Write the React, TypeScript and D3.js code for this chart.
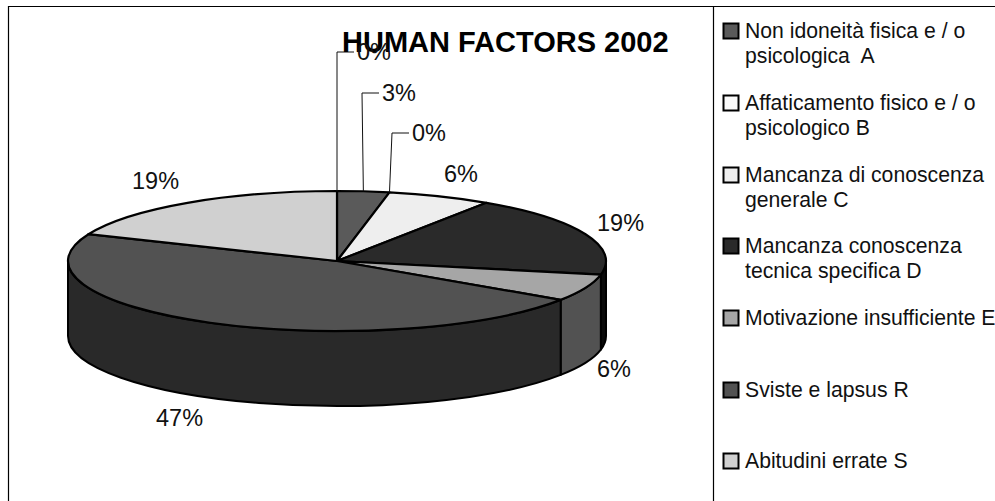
import React from "react";
import * as d3 from "d3";

// Incident counts per factor, clockwise from twelve o'clock.
const sliceCounts = [0, 1, 0, 2, 6, 2, 15, 6];
const sliceFills = ["#ffffff", "#5a5a5a", "#fbfbfb", "#eeeeee", "#2a2a2a", "#a6a6a6", "#525252", "#d0d0d0"];
const sideFills = ["#808080", "#2d2d2d", "#7e7e7e", "#777777", "#0a0a0a", "#525252", "#292929", "#686868"];

const chartTitle = "HUMAN FACTORS 2002";

const legendLines = [
  ["Non idoneità fisica e / o", "psicologica  A"],
  ["Affaticamento fisico e / o", "psicologico B"],
  ["Mancanza di conoscenza", "generale C"],
  ["Mancanza conoscenza", "tecnica specifica D"],
  ["Motivazione insufficiente E"],
  ["Sviste e lapsus R"],
  ["Abitudini errate S"],
];
const legendFills = ["#5a5a5a", "#fbfbfb", "#eeeeee", "#2a2a2a", "#a6a6a6", "#525252", "#d0d0d0"];
const legendSwatchTops = [23, 95, 167, 238, 310, 382, 453];

// Where each percentage sits: text start, baseline.
const labelAnchors: [number, number][] = [
  [357, 60], [382, 101], [412, 141], [444, 182], [597, 231], [597, 377], [156, 426], [132, 189],
];
// Elbow leaders for the three crowded labels at the top: elbow x, elbow y, end x.
const leaders: Record<number, [number, number, number]> = {
  0: [337, 52, 354],
  1: [362, 93, 379],
  2: [392, 133, 409],
};

const FONT = '"Liberation Sans", Arial, Helvetica, sans-serif';
const x = d3.scaleLinear().domain([-1, 1]).range([68, 606]);
const y = d3.scaleLinear().domain([-1, 1]).range([191, 331]);
const rx = (x(1) - x(-1)) / 2;
const ry = (y(1) - y(-1)) / 2;
const DEPTH = 75;

const pct = d3.format(".0%");
const total = d3.sum(sliceCounts);
const arcs = d3.pie<number>().sort(null).value((d) => d)(sliceCounts);

const rim = (a: number, drop = 0): [number, number] => [x(Math.sin(a)), y(-Math.cos(a)) + drop];

function topPath(a0: number, a1: number) {
  const [x0, y0] = rim(a0);
  const [x1, y1] = rim(a1);
  const large = a1 - a0 > Math.PI ? 1 : 0;
  return `M${x(0)},${y(0)}L${x0},${y0}A${rx},${ry} 0 ${large} 1 ${x1},${y1}Z`;
}

function sidePath(a0: number, a1: number) {
  const [x0, y0] = rim(a0);
  const [x1, y1] = rim(a1);
  const [x2, y2] = rim(a1, DEPTH);
  const [x3, y3] = rim(a0, DEPTH);
  return `M${x0},${y0}A${rx},${ry} 0 0 1 ${x1},${y1}L${x2},${y2}A${rx},${ry} 0 0 0 ${x3},${y3}Z`;
}

export default function App() {
  return (
    <svg
      width={995}
      height={501}
      style={{ position: "absolute", left: 0, top: 0, background: "#fff" }}
      fontFamily={FONT}
    >
      {/* frame around the plot and legend */}
      <path d="M8.5,501V6.5H995M713.5,6.5V501" fill="none" stroke="#000" strokeWidth={1.2} />

      {/* visible part of the pie's side wall */}
      {arcs.map((d, i) => {
        const a0 = Math.max(d.startAngle, Math.PI / 2);
        const a1 = Math.min(d.endAngle, (3 * Math.PI) / 2);
        return a1 > a0 ? (
          <path key={i} d={sidePath(a0, a1)} fill={sideFills[i]} stroke="#000" strokeWidth={2} strokeLinejoin="round" />
        ) : null;
      })}

      {/* top face */}
      {arcs.map((d, i) =>
        d.endAngle > d.startAngle ? (
          <path key={i} d={topPath(d.startAngle, d.endAngle)} fill={sliceFills[i]} stroke="#000" strokeWidth={2.2} strokeLinejoin="round" />
        ) : null
      )}

      {/* leaders */}
      {arcs.map((d, i) => {
        const l = leaders[i];
        if (!l) return null;
        const [px, py] = rim(d.startAngle === d.endAngle ? d.startAngle : (d.startAngle + d.endAngle) / 2);
        return <path key={i} d={`M${px},${py}L${l[0]},${l[1]}H${l[2]}`} fill="none" stroke="#111" strokeWidth={1} />;
      })}

      <text x={342} y={52} fontSize={29} fontWeight="bold" fill="#000">{chartTitle}</text>

      {sliceCounts.map((v, i) => (
        <text key={i} x={labelAnchors[i][0]} y={labelAnchors[i][1]} fontSize={23.5} fill="#111">
          {pct(v / total)}
        </text>
      ))}

      {legendLines.map((lines, i) => (
        <g key={i}>
          <rect x={723.5} y={legendSwatchTops[i] + 0.5} width={15} height={15} fill={legendFills[i]} stroke="#000" strokeWidth={2} />
          {lines.map((line, j) => (
            <text key={j} x={745} y={legendSwatchTops[i] + 15 + j * 25} fontSize={21.2} fill="#111" style={{ whiteSpace: "pre" }}>{line}</text>
          ))}
        </g>
      ))}
    </svg>
  );
}
